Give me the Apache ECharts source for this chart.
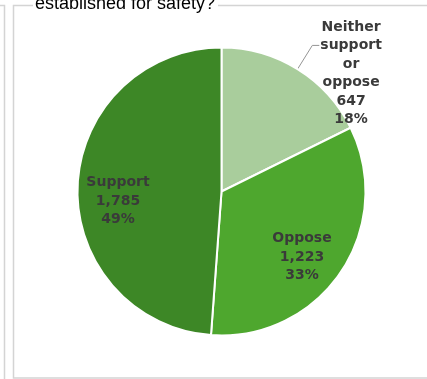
<!DOCTYPE html>
<html>
<head>
<meta charset="utf-8">
<script src="https://cdn.jsdelivr.net/npm/echarts@6/dist/echarts.min.js"></script>
<style>
  html, body { margin: 0; padding: 0; background: #ffffff; }
  #chart { width: 427px; height: 379px; }
</style>
</head>
<body>
<div id="chart"></div>
<script>
// Survey responses
const categories = ['Neither support or oppose', 'Oppose', 'Support'];
const counts = [647, 1223, 1785];
const percents = ['18%', '33%', '49%'];
const sliceColors = ['#a9cd9c', '#4ea72e', '#3d8726'];
const titleText = 'established for safety?';

// Where the inside labels sit (label centre, px)
const insideLabelAt = { 1: [302, 257], 2: [118, 201] };

const fmt = n => n.toLocaleString('en-US');

function labelLines(i) {
  const name = categories[i];
  if (i === 0) {
    // outside label: the leader line meets the second text line
    const words = ['Neither', 'support', 'or', 'oppose'];
    const body = words.concat([fmt(counts[i]), percents[i]]).map(w => '{c|' + w + '}').join('\n');
    return '\n\n\n' + body;
  }
  return '{c|' + name + '}\n{c|' + fmt(counts[i]) + '}\n{c|' + percents[i] + '}';
}

const data = categories.map((name, i) => ({
  name: name,
  value: counts[i],
  itemStyle: { color: sliceColors[i] },
  label: {
    position: i === 0 ? 'outside' : 'inside',
    formatter: () => labelLines(i)
  }
}));

const chart = echarts.init(document.getElementById('chart'), null, { renderer: 'canvas' });

const frameColor = '#d4d4d4';
const labelFont = '"DejaVu Sans", Verdana, sans-serif';

chart.setOption({
  animation: false,
  backgroundColor: '#ffffff',
  graphic: [
    // neighbouring panel edge
    { type: 'polyline', shape: { points: [[0, 5.5], [4.5, 5.5], [4.5, 379]] }, style: { stroke: frameColor, lineWidth: 1.5, fill: null }, z: 0 },
    // chart frame
    { type: 'polyline', shape: { points: [[427, 5.5], [13.5, 5.5], [13.5, 378], [427, 378]] }, style: { stroke: frameColor, lineWidth: 1.5, fill: null }, z: 0 },
    // title backing and text
    { type: 'rect', shape: { x: 33, y: 0, width: 185, height: 14 }, style: { fill: '#ffffff' }, z: 1 },
    { type: 'text', x: 35, y: 13, style: { text: titleText, fill: '#000000', font: '18px "Liberation Sans", Arial, sans-serif', textAlign: 'left', textVerticalAlign: 'bottom' }, z: 2 }
  ],
  series: [{
    type: 'pie',
    center: [221.5, 191.5],
    radius: 144,
    startAngle: 90,
    clockwise: true,
    avoidLabelOverlap: false,
    itemStyle: { borderColor: '#ffffff', borderWidth: 2 },
    label: {
      show: true,
      color: '#3a3a3a',
      fontFamily: labelFont,
      fontWeight: 'bold',
      fontSize: 14,
      lineHeight: 18.5,
      distanceToLabelLine: 1,
      rich: {
        c: { align: 'center', color: '#3a3a3a', fontFamily: labelFont, fontWeight: 'bold', fontSize: 14, lineHeight: 18.5 }
      }
    },
    labelLine: {
      show: true,
      length: 28,
      length2: 7,
      lineStyle: { color: '#959595', width: 1 }
    },
    labelLayout: function (params) {
      const p = insideLabelAt[params.dataIndex];
      if (!p) return {};
      return { x: p[0], y: p[1], align: 'center', verticalAlign: 'middle' };
    },
    emphasis: { disabled: true },
    data: data
  }]
});
</script>
</body>
</html>
